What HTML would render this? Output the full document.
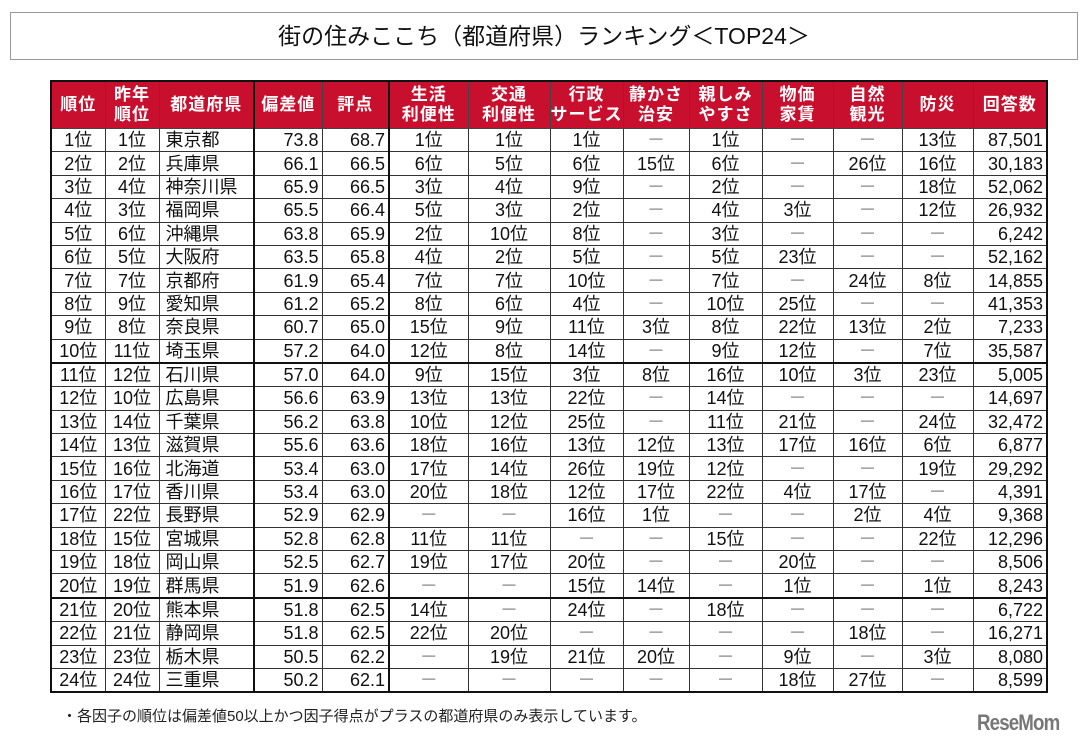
<!DOCTYPE html>
<html><head><meta charset="utf-8">
<style>
body{margin:0;width:1090px;height:746px;background:#fff;position:relative;overflow:hidden;font-family:"Liberation Sans","Noto Sans CJK JP",sans-serif;}
#title{position:absolute;left:10px;top:12px;width:1068px;height:48px;border:1px solid #999;box-sizing:border-box;text-align:center;line-height:46px;font-size:23px;color:#111;}
table{position:absolute;left:50px;top:80px;border-collapse:collapse;table-layout:fixed;border:2px solid #111;}
th{background:#c8102e;color:#fff;font-weight:bold;font-size:17px;line-height:20px;height:46px;border:1px solid #444;padding:0;letter-spacing:1px;}
td{height:22.4px;border:1px solid #333;padding:0 3px;font-size:18px;line-height:20px;color:#111;white-space:nowrap;overflow:hidden;}
td.c{text-align:center}td.r{text-align:right}td.l{text-align:left;padding-left:6px}
td.d{color:#888}
tr.thick td{border-bottom:2px solid #111}
.bl{border-left:2px solid #111 !important}
#note{position:absolute;left:62px;top:705px;font-size:15px;color:#222;}
#logo{position:absolute;left:977px;top:710px;font-size:22px;font-weight:bold;color:#777;letter-spacing:-1px;transform:scaleX(0.85);transform-origin:left;}
</style></head><body>
<div id="title">街の住みここち（都道府県）ランキング＜TOP24＞</div>
<table id="tbl">
<colgroup><col style="width:54px"><col style="width:54px"><col style="width:95px"><col style="width:68px"><col style="width:67px"><col style="width:79px"><col style="width:82px"><col style="width:73px"><col style="width:66px"><col style="width:73px"><col style="width:71px"><col style="width:69px"><col style="width:71px"><col style="width:74px"></colgroup>
<thead><tr id="hdr"></tr></thead><tbody id="body"></tbody></table>
<div id="note">・各因子の順位は偏差値50以上かつ因子得点がプラスの都道府県のみ表示しています。</div>
<div id="logo">ReseMom</div>
<script>
const headers=["順位","昨年<br>順位","都道府県","偏差値","評点","生活<br>利便性","交通<br>利便性","行政<br>サービス","静かさ<br>治安","親しみ<br>やすさ","物価<br>家賃","自然<br>観光","防災","回答数"];
const rows=[
[1,1,"東京都","73.8","68.7",1,1,1,0,1,0,0,13,"87,501"],
[2,2,"兵庫県","66.1","66.5",6,5,6,15,6,0,26,16,"30,183"],
[3,4,"神奈川県","65.9","66.5",3,4,9,0,2,0,0,18,"52,062"],
[4,3,"福岡県","65.5","66.4",5,3,2,0,4,3,0,12,"26,932"],
[5,6,"沖縄県","63.8","65.9",2,10,8,0,3,0,0,0,"6,242"],
[6,5,"大阪府","63.5","65.8",4,2,5,0,5,23,0,0,"52,162"],
[7,7,"京都府","61.9","65.4",7,7,10,0,7,0,24,8,"14,855"],
[8,9,"愛知県","61.2","65.2",8,6,4,0,10,25,0,0,"41,353"],
[9,8,"奈良県","60.7","65.0",15,9,11,3,8,22,13,2,"7,233"],
[10,11,"埼玉県","57.2","64.0",12,8,14,0,9,12,0,7,"35,587"],
[11,12,"石川県","57.0","64.0",9,15,3,8,16,10,3,23,"5,005"],
[12,10,"広島県","56.6","63.9",13,13,22,0,14,0,0,0,"14,697"],
[13,14,"千葉県","56.2","63.8",10,12,25,0,11,21,0,24,"32,472"],
[14,13,"滋賀県","55.6","63.6",18,16,13,12,13,17,16,6,"6,877"],
[15,16,"北海道","53.4","63.0",17,14,26,19,12,0,0,19,"29,292"],
[16,17,"香川県","53.4","63.0",20,18,12,17,22,4,17,0,"4,391"],
[17,22,"長野県","52.9","62.9",0,0,16,1,0,0,2,4,"9,368"],
[18,15,"宮城県","52.8","62.8",11,11,0,0,15,0,0,22,"12,296"],
[19,18,"岡山県","52.5","62.7",19,17,20,0,0,20,0,0,"8,506"],
[20,19,"群馬県","51.9","62.6",0,0,15,14,0,1,0,1,"8,243"],
[21,20,"熊本県","51.8","62.5",14,0,24,0,18,0,0,0,"6,722"],
[22,21,"静岡県","51.8","62.5",22,20,0,0,0,0,18,0,"16,271"],
[23,23,"栃木県","50.5","62.2",0,19,21,20,0,9,0,3,"8,080"],
[24,24,"三重県","50.2","62.1",0,0,0,0,0,18,27,0,"8,599"]];
const hdr=document.getElementById('hdr');
headers.forEach((h,i)=>{const th=document.createElement('th');th.innerHTML=h;


if(i===3||i===5)th.classList.add('bl');hdr.appendChild(th);});
const body=document.getElementById('body');
rows.forEach((r,ri)=>{const tr=document.createElement('tr');


if(ri===9||ri===19)tr.classList.add('thick');
r.forEach((v,i)=>{const td=document.createElement('td');


if(i===3||i===5)td.classList.add('bl');
if(i===2){td.className+=' l';td.textContent=v;}
else if(i===3||i===4||i===13){td.className+=' r';td.textContent=v;}
else{td.className+=' c';if(v===0){td.textContent='－';td.classList.add('d');}else td.textContent=v+'位';}
tr.appendChild(td);});body.appendChild(tr);});
</script>
</body></html>
